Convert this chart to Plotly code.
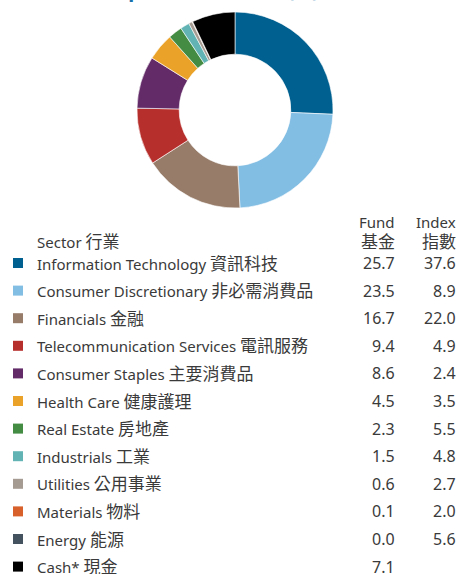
import plotly.graph_objects as go

# Sector breakdown data
sectors_en = ["Information Technology", "Consumer Discretionary", "Financials",
              "Telecommunication Services", "Consumer Staples", "Health Care",
              "Real Estate", "Industrials", "Utilities", "Materials", "Energy", "Cash*"]
sectors_zh = ["資訊科技", "非必需消費品", "金融", "電訊服務", "主要消費品", "健康護理",
              "房地產", "工業", "公用事業", "物料", "能源", "現金"]
fund_pct = [25.7, 23.5, 16.7, 9.4, 8.6, 4.5, 2.3, 1.5, 0.6, 0.1, 0.0, 7.1]
index_pct = [37.6, 8.9, 22.0, 4.9, 2.4, 3.5, 5.5, 4.8, 2.7, 2.0, 5.6, None]
colors = ["#00608f", "#82bde3", "#977c69", "#b72f2c", "#632c69", "#eaa328",
          "#448b43", "#62b4b4", "#a59b92", "#d8612b", "#44525f", "#000000"]

W, H = 458, 574
FONT = "'Noto Sans', 'Noto Sans CJK TC', sans-serif"
TXT = "#3a3a3a"


def zh(s, size=17):
    return f"<span style='font-size:{size}px'>{s}</span>"


fig = go.Figure()

# Donut chart of the fund allocation
fig.add_trace(go.Pie(
    labels=[f"{e} {z}" for e, z in zip(sectors_en, sectors_zh)],
    values=fund_pct,
    marker=dict(colors=colors, line=dict(color="white", width=0.6)),
    hole=0.57, sort=False, direction="clockwise", rotation=0,
    textinfo="none", hoverinfo="label+value", showlegend=False,
    domain=dict(x=[137 / W, 333 / W], y=[1 - 208 / H, 1 - 12 / H]),
))

# Table: one row per sector, rows spaced evenly on a reversed axis
ROW0, ROWH = 263, 27.6
rows = list(range(len(sectors_en)))
fig.add_trace(go.Scatter(
    x=[18] * len(rows), y=rows, mode="markers",
    marker=dict(symbol="square", size=10, color=colors, line=dict(width=0)),
    hoverinfo="skip", showlegend=False,
))

base = dict(xref="x", yref="y", yanchor="middle", showarrow=False)
ann = []
for i, (e, z, f, ix) in enumerate(zip(sectors_en, sectors_zh, fund_pct, index_pct)):
    ann.append(dict(base, x=35, y=i, text=f"{e} {zh(z)}", xanchor="left",
                    font=dict(size=15, color=TXT, family=FONT)))
    ann.append(dict(base, x=397, y=i, text=f"{f:.1f}", xanchor="right",
                    font=dict(size=16, color=TXT, family=FONT)))
    if ix is not None:
        ann.append(dict(base, x=458, y=i, text=f"{ix:.1f}", xanchor="right",
                        font=dict(size=16, color=TXT, family=FONT)))

# Column headers
hdr_y = (241 - ROW0) / ROWH
hdr_y2 = (222 - ROW0) / ROWH
headers = [(35, hdr_y, "Sector " + zh("行業"), "left"),
           (397, hdr_y, zh("基金"), "right"), (458, hdr_y, zh("指數"), "right"),
           (397, hdr_y2, "Fund", "right"), (458, hdr_y2, "Index", "right")]
for x, yy, t, anchor in headers:
    ann.append(dict(base, x=x, y=yy, text=t, xanchor=anchor,
                    font=dict(size=15, color=TXT, family=FONT)))

# Section title, running off the top edge of the page
ann.append(dict(x=35 / W, y=1 - 5 / H, xref="paper", yref="paper",
                text="<b>Sector Exposure 行業分佈 (%)</b>", xanchor="left", yanchor="bottom",
                showarrow=False, font=dict(size=20, color="#1a6fa8", family=FONT)))

fig.update_layout(
    width=W, height=H, margin=dict(l=0, r=0, t=0, b=0),
    paper_bgcolor="white", plot_bgcolor="rgba(0,0,0,0)",
    xaxis=dict(range=[0, W], domain=[0, 1], visible=False, fixedrange=True),
    yaxis=dict(range=[(H - ROW0) / ROWH, -ROW0 / ROWH], domain=[0, 1], visible=False, fixedrange=True),
    annotations=ann,
)

fig.write_html("out.html")
